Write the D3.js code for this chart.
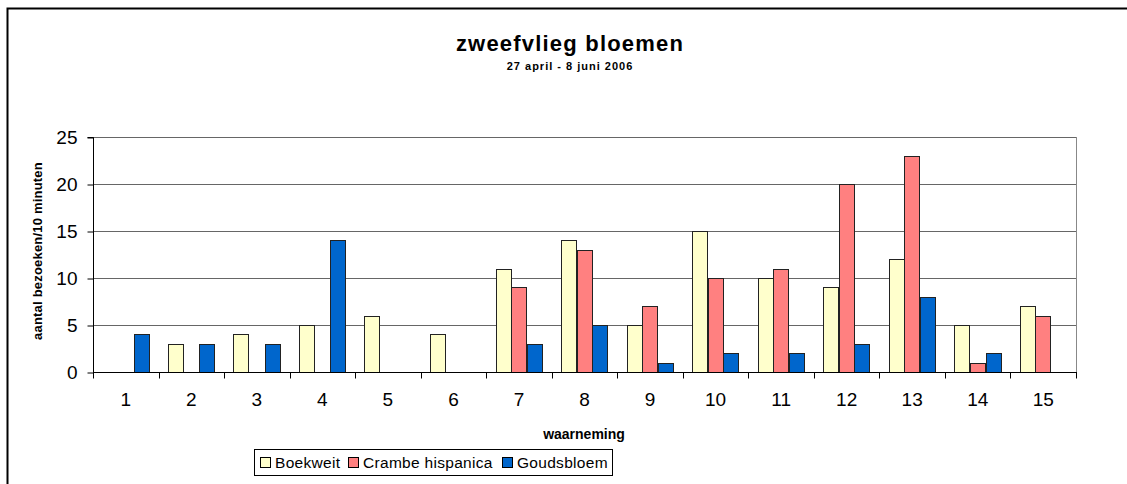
<!DOCTYPE html>
<html><head><meta charset="utf-8">
<script src="https://cdn.jsdelivr.net/npm/d3@7"></script>
<style>body{margin:0;background:#fff}svg{display:block}text{font-family:"Liberation Sans",Arial,sans-serif}</style>
</head><body><svg id="c" width="1127" height="484"></svg>
<script>
const categories = ["1","2","3","4","5","6","7","8","9","10","11","12","13","14","15"];
const seriesNames = ["Boekweit","Crambe hispanica","Goudsbloem"];
const boekweit = [0,3,4,5,6,4,11,14,5,15,10,9,12,5,7];
const crambe = [0,0,0,0,0,0,9,13,7,10,11,20,23,1,6];
const goudsbloem = [4,3,3,14,0,0,3,5,1,2,2,3,8,2,0];
const yTicks = [0,5,10,15,20,25];
const colors = ["#FFFFCC","#FF8080","#0066CC"];
const series = [boekweit, crambe, goudsbloem];

const svg = d3.select("#c");
// outer chart border
svg.append("rect").attr("x",7.5).attr("y",8.5).attr("width",1140).attr("height",500)
  .attr("fill","none").attr("stroke","#000").attr("stroke-width",2);

const L=93, R=1076, T=137, B=372;
const x = d3.scaleBand().domain(categories).range([L,R]).paddingInner(0).paddingOuter(0);
const y = d3.scaleLinear().domain([0,25]).range([B,T]);
const barW = x.bandwidth()/4.2;
const x1 = d3.scaleBand().domain(seriesNames).range([0,barW*3]);

// gridlines
svg.append("g").selectAll("line").data(yTicks.filter(d=>d>0)).join("line")
  .attr("x1",L).attr("x2",R).attr("y1",d=>Math.round(y(d))+0.5).attr("y2",d=>Math.round(y(d))+0.5)
  .attr("stroke","#666").attr("stroke-width",1);
// right border of plot
svg.append("line").attr("x1",R+0.5).attr("x2",R+0.5).attr("y1",T).attr("y2",B).attr("stroke","#888");

// bars
series.forEach((vals,si)=>{
  svg.append("g").selectAll("rect").data(vals.map((v,i)=>({c:categories[i],v})).filter(d=>d.v>0)).join("rect")
    .attr("x",d=>Math.round(x(d.c)+(x.bandwidth()-barW*3)/2+x1(seriesNames[si]))+0.5)
    .attr("y",d=>Math.round(y(d.v))+0.5)
    .attr("width",Math.round(barW)-1)
    .attr("height",d=>Math.round(y(0))-Math.round(y(d.v)))
    .attr("fill",colors[si]).attr("stroke","#222").attr("stroke-width",1);
});

// y axis
const yAxis = d3.axisLeft(y).tickValues(yTicks).tickSize(6).tickPadding(10);
const gy = svg.append("g").attr("transform",`translate(${L+0.5},0.5)`).call(yAxis);
gy.select(".domain").attr("d",`M-6,${T}H0V${B}`).attr("stroke","#000");
gy.selectAll("text").attr("font-size",19).attr("fill","#000").attr("font-family","Liberation Sans, Arial");
gy.selectAll(".tick line").attr("stroke","#000");

// x axis
const gx = svg.append("g").attr("transform",`translate(0,${B+0.5})`);
gx.append("line").attr("x1",L).attr("x2",R+1).attr("y1",0).attr("y2",0).attr("stroke","#000");
const bounds = categories.map(c=>x(c)).concat([R]);
gx.selectAll("line.tk").data(bounds).join("line").attr("class","tk")
  .attr("x1",d=>Math.round(d)+0.5).attr("x2",d=>Math.round(d)+0.5).attr("y1",0).attr("y2",6).attr("stroke","#000");
gx.selectAll("text").data(categories).join("text")
  .attr("x",d=>x(d)+x.bandwidth()/2).attr("y",33).attr("text-anchor","middle")
  .attr("font-size",19).text(d=>d);

// titles
svg.append("text").attr("x",570).attr("y",51).attr("text-anchor","middle").attr("font-weight","bold").attr("font-size",22).attr("letter-spacing",1.2).text("zweefvlieg bloemen");
svg.append("text").attr("x",570).attr("y",70).attr("text-anchor","middle").attr("font-weight","bold").attr("font-size",11).attr("letter-spacing",1).text("27 april - 8 juni 2006");
svg.append("text").attr("x",584).attr("y",439).attr("text-anchor","middle").attr("font-weight","bold").attr("font-size",14).text("waarneming");
svg.append("text").attr("transform","translate(42,251) rotate(-90)").attr("text-anchor","middle").attr("font-weight","bold").attr("font-size",13).attr("letter-spacing",0.2).text("aantal bezoeken/10 minuten");

// legend
const lg = svg.append("g");
lg.append("rect").attr("x",254.5).attr("y",449.5).attr("width",358).attr("height",26).attr("fill","#fff").attr("stroke","#000");
const legX = [260, 348, 502];
seriesNames.forEach((n,i)=>{
  lg.append("rect").attr("x",legX[i]+0.5).attr("y",457.5).attr("width",10).attr("height",10).attr("fill",colors[i]).attr("stroke","#000");
  lg.append("text").attr("x",legX[i]+15).attr("y",468).attr("font-size",15.5).attr("letter-spacing",0.3).text(n);
});
</script></body></html>
